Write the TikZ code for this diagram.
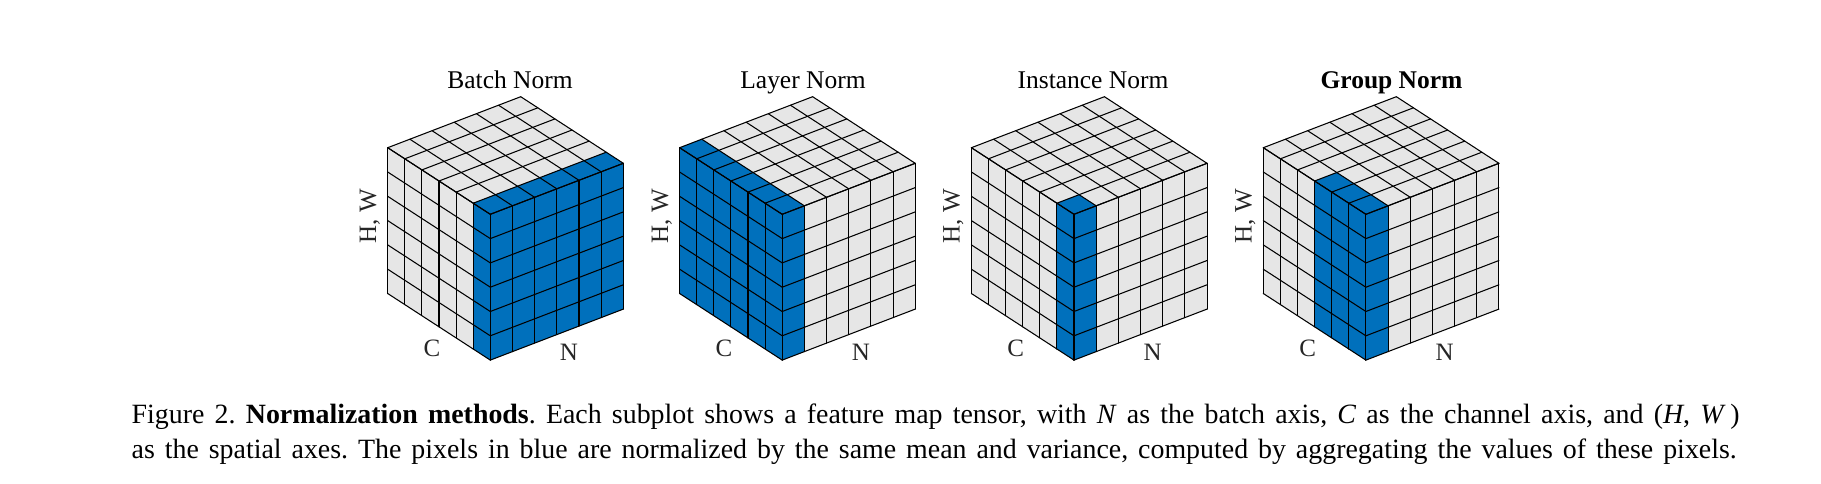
\documentclass[tikz,border=0pt]{standalone}
\usepackage{fontspec}
\setmainfont{Liberation Serif}
\frenchspacing
\definecolor{cellblue}{HTML}{0070BC}
\definecolor{cellgray}{HTML}{E6E6E6}
\tikzset{
  gridline/.style={draw=black,line width=1.05pt,line join=round,line cap=round},
  plotlabel/.style={font=\fontsize{25}{30}\selectfont,inner sep=0pt,outer sep=0pt,text=black!85},
  plottitle/.style={font=\fontsize{25.5}{30}\selectfont,inner sep=0pt,outer sep=0pt,anchor=base},
  captionline/.style={font=\fontsize{27.9}{30}\selectfont,inner sep=0pt,outer sep=0pt,anchor=base west}
}
% #1 x of the cube's front edge, #2 depth of blue on left face, #3 width of blue on right face
\newcommand{\tensorcube}[3]{%
  \begin{scope}[shift={(#1,-214.3)},x={(22.17pt,8.5pt)},y={(0pt,-24.3pt)},z={(-17.1pt,11.1pt)}]
    \fill[cellgray] (0,0,0) -- (6,0,0) -- (6,0,6) -- (0,0,6) -- cycle;
    \fill[cellgray] (0,0,0) -- (0,6,0) -- (0,6,6) -- (0,0,6) -- cycle;
    \fill[cellgray] (0,0,0) -- (0,6,0) -- (6,6,0) -- (6,0,0) -- cycle;
    \fill[cellblue] (0,0,0) -- (#3,0,0) -- (#3,0,#2) -- (0,0,#2) -- cycle;
    \fill[cellblue] (0,0,0) -- (0,6,0) -- (0,6,#2) -- (0,0,#2) -- cycle;
    \fill[cellblue] (0,0,0) -- (0,6,0) -- (#3,6,0) -- (#3,0,0) -- cycle;
    \foreach \n in {0,...,6}{
      \draw[gridline] (0,0,\n) -- (6,0,\n);
      \draw[gridline] (\n,0,0) -- (\n,0,6);
      \draw[gridline] (0,0,\n) -- (0,6,\n);
      \draw[gridline] (0,\n,0) -- (0,\n,6);
      \draw[gridline] (\n,0,0) -- (\n,6,0);
      \draw[gridline] (0,\n,0) -- (6,\n,0);
    }
  \end{scope}%
}
\begin{document}
\begin{tikzpicture}[x=1pt,y=1pt]
  \path[use as bounding box,fill=white] (0,0) rectangle (1821,-483);
  \tensorcube{490.3}{1}{6}
  \tensorcube{782.2}{6}{1}
  \tensorcube{1074}{1}{1}
  \tensorcube{1365.9}{3}{1}
  \node[plottitle] (t1) at (510,-88) {Batch Norm};
  \node[plottitle] (t2) at (803,-88) {Layer Norm};
  \node[plottitle] (t3) at (1093,-88) {Instance Norm};
  \node[plottitle] (t4) at (1391.5,-88) {\textbf{Group Norm}};
  \foreach \k/\xx in {1/376,2/668,3/959.7,4/1251.6}{
    \node[plotlabel,rotate=90,anchor=base] (hw\k) at (\xx,-216) {H, W};
  }
  \foreach \k/\xx in {1/432,2/724,3/1015.7,4/1307.6}{
    \node[plotlabel,anchor=base] (c\k) at (\xx,-356) {C};
  }
  \foreach \k/\xx in {1/569,2/861,3/1152.7,4/1444.6}{
    \node[plotlabel,anchor=base] (n\k) at (\xx,-360) {N};
  }
  \node[captionline] (cap1) at (131.7,-423) {\hbox to 1608pt{Figure 2. \textbf{Normalization methods}. Each subplot shows a feature map tensor, with \textit{N} as the batch axis, \textit{C} as the channel axis, and (\textit{H}, \textit{W}\,)}};
  \node[captionline] (cap2) at (131.7,-458) {\hbox to 1605pt{as the spatial axes. The pixels in blue are normalized by the same mean and variance, computed by aggregating the values of these pixels.}};
\end{tikzpicture}
\end{document}
